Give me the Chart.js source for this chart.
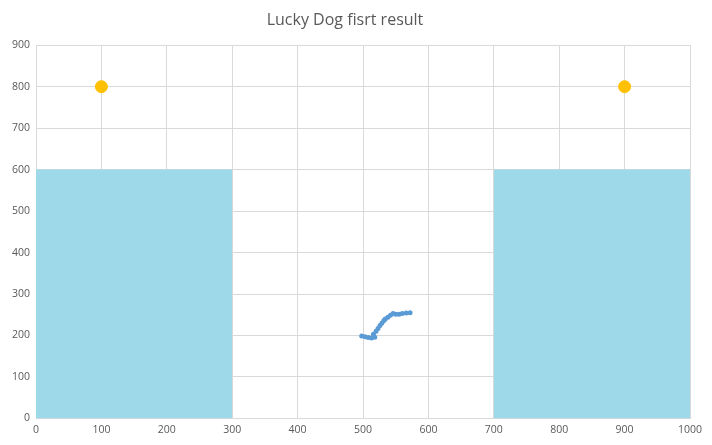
<!DOCTYPE html>
<html>
<head>
<meta charset="utf-8">
<script src="https://cdn.jsdelivr.net/npm/chart.js@4"></script>
<style>
  html, body { margin: 0; padding: 0; background: #fff; }
  #wrap { width: 712px; height: 445px; }
</style>
</head>
<body>
<div id="wrap"><canvas id="chartCanvas" width="712" height="445"></canvas></div>
<script>
//data
const leftZoneX = [0, 300];
const rightZoneX = [700, 1000];
const zoneHeight = 600;
const goalX = [100, 900];
const goalY = [800, 800];
const pathX = [498, 503, 508, 513, 518, 516, 520, 523, 526, 529, 532, 534, 538, 542, 546, 550, 555, 560, 566, 572];
const pathY = [199, 197, 195, 194, 196, 203, 210, 217, 224, 230, 236, 240, 244, 249, 253, 251, 251, 253, 254, 255];

function zip(xs, ys) {
  return xs.map((x, i) => ({ x: x, y: ys[i] }));
}

const zoneStyle = {
  type: "line",
  borderWidth: 0,
  pointRadius: 0,
  backgroundColor: "#9dd9e9",
  fill: "origin",
  order: 3,
};

const tickFont = { family: "Open Sans", size: 10.5 };

const chart = new Chart(document.getElementById("chartCanvas"), {
  type: "scatter",
  data: {
    datasets: [
      Object.assign({ data: zip(leftZoneX, [zoneHeight, zoneHeight]) }, zoneStyle),
      Object.assign({ data: zip(rightZoneX, [zoneHeight, zoneHeight]) }, zoneStyle),
      {
        type: "line",
        data: zip(pathX, pathY),
        borderColor: "#5b9bd5",
        backgroundColor: "#5b9bd5",
        borderWidth: 2,
        pointRadius: 1.5,
        fill: false,
        order: 2,
      },
      {
        data: zip(goalX, goalY),
        backgroundColor: "#ffc000",
        borderColor: "#ffc000",
        pointRadius: 6,
        order: 1,
      },
    ],
  },
  options: {
    responsive: false,
    animation: false,
    layout: { padding: { left: 0, right: 22, top: 0, bottom: 4 } },
    plugins: {
      legend: { display: false },
      tooltip: { enabled: false },
      title: {
        display: true,
        text: "Lucky Dog fisrt result",
        color: "#595959",
        font: { family: "Open Sans", size: 16, weight: "normal" },
        padding: { top: 11, bottom: 15 },
      },
    },
    scales: {
      x: {
        type: "linear",
        min: 0,
        max: 1000,
        ticks: { stepSize: 100, color: "#595959", font: tickFont, padding: 5, callback: (v) => String(v) },
        grid: { color: "#d9d9d9", drawTicks: false },
        border: { color: "#d9d9d9" },
      },
      y: {
        min: 0,
        max: 900,
        ticks: { stepSize: 100, color: "#595959", font: tickFont, padding: 6 },
        grid: { color: "#d9d9d9", drawTicks: false },
        border: { color: "#d9d9d9" },
        afterFit: (axis) => { axis.width = 36; },
      },
    },
  },
});
</script>
</body>
</html>
